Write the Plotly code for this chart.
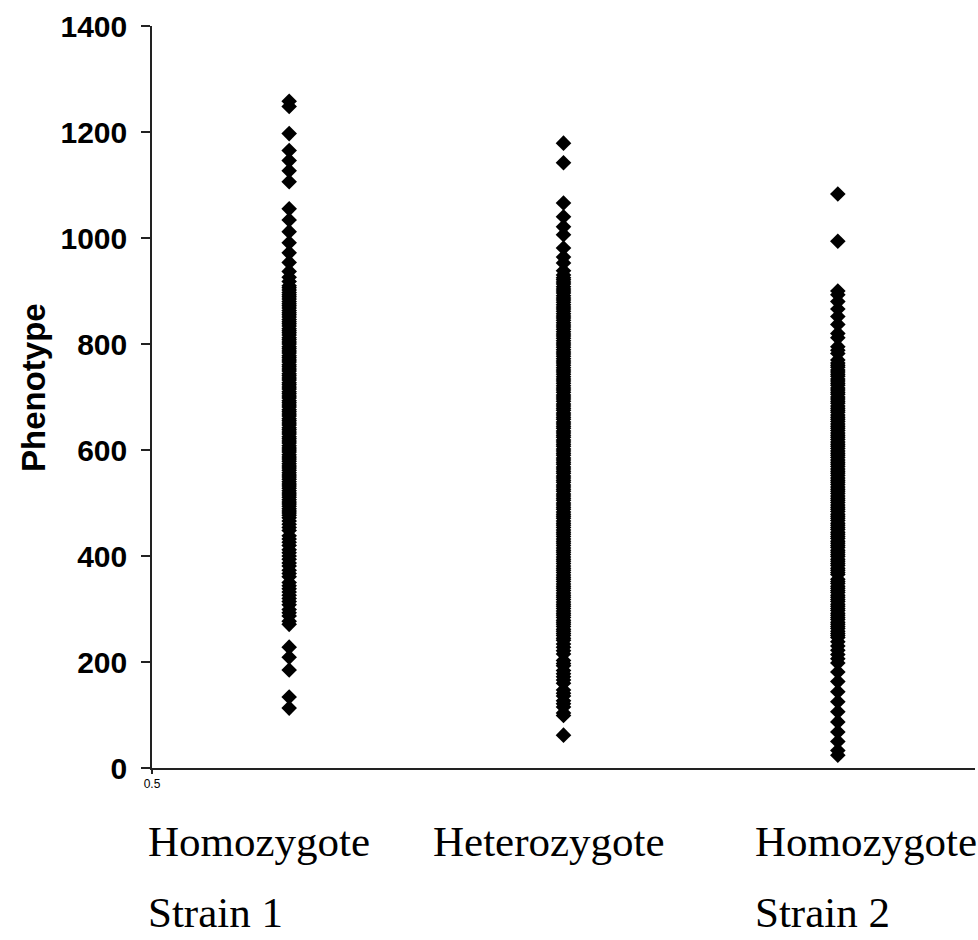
import plotly.graph_objects as go

# ---- data ----
categories = ["Homozygote Strain 1", "Heterozygote", "Homozygote Strain 2"]
group_positions = [1, 2, 3]
label_line1 = ["Homozygote", "Heterozygote", "Homozygote"]
label_line2 = ["Strain 1", "", "Strain 2"]
label_left_px = [148, 433, 755]

y_tick_values = [0, 200, 400, 600, 800, 1000, 1200, 1400]
x_tick_values = [0.5]
x_tick_text = ["0.5"]

homozygote_strain1 = [
    1258, 1248, 1197, 1165, 1146, 1127, 1106, 1055, 1034, 1012, 991, 972, 954, 937, 926, 918,
    910, 906, 902, 897, 893, 889, 885, 880, 876, 872, 868, 863, 859, 855, 851, 846, 842, 838,
    834, 829, 825, 821, 817, 812, 808, 804, 800, 795, 791, 787, 783, 778, 774, 770, 766, 761,
    757, 753, 749, 744, 740, 736, 732, 727, 723, 719, 715, 710, 706, 702, 698, 693, 689, 685,
    681, 676, 672, 668, 664, 659, 655, 651, 647, 642, 638, 634, 630, 625, 621, 617, 613, 608,
    604, 600, 596, 591, 587, 583, 579, 574, 570, 566, 562, 557, 553, 549, 545, 540, 536, 532,
    528, 523, 519, 515, 511, 506, 502, 498, 494, 489, 485, 481, 477, 472,
    466, 460, 454, 448, 438, 432, 426, 420, 412, 406, 400, 394, 387, 381, 373, 367, 361,
    350, 344, 338, 332, 326, 320, 314, 308, 299, 293, 287, 277, 271,
    228, 209, 185, 134, 113,
]

heterozygote = [
    1179, 1142, 1066, 1040, 1021, 1006, 981, 964, 953, 938, 930,
    925, 921, 917, 913, 908, 904, 900, 896, 891, 887, 883, 879, 874, 870, 866, 862, 857, 853,
    849, 845, 840, 836, 832, 828, 823, 819, 815, 811, 806, 802, 798, 794, 789, 785, 781, 777,
    772, 768, 764, 760, 755, 751, 747, 743, 738, 734, 730, 726, 721, 717, 713, 709, 704, 700,
    696, 692, 687, 683, 679, 675, 670, 666, 662, 658, 653, 649, 645, 641, 636, 632, 628, 624,
    619, 615, 611, 607, 602, 598, 594, 590, 585, 581, 577, 573, 568, 564, 560, 556, 551, 547,
    543, 539, 534, 530, 526, 522, 517, 513, 509, 505, 500, 496, 492, 488, 483, 479, 475, 471,
    466, 462, 458, 454, 449, 445, 441, 437, 432, 428, 424, 420, 415, 411, 407, 403, 398, 394,
    390, 386, 381, 377, 373, 369, 364, 360, 356, 352, 347, 343, 339, 335, 330, 326, 322, 318,
    313, 309, 305, 301, 296, 292, 288, 284, 279, 275, 271, 267, 262, 258, 254, 250, 245, 241,
    234, 228, 221, 215, 203, 197, 193, 184, 178, 172, 166, 160, 147, 141, 136,
    127, 121, 115, 104, 99, 62,
]

homozygote_strain2 = [
    1083, 994, 900, 893, 880, 866, 852, 837, 820, 812, 795, 788, 782, 770,
    764, 760, 756, 751, 747, 743, 739, 734, 730, 726, 722, 717, 713, 709, 705, 700, 696, 692,
    688, 683, 679, 675, 671, 666, 662, 658, 654, 649, 645, 641, 637, 632, 628, 624, 620, 615,
    611, 607, 603, 598, 594, 590, 586, 581, 577, 573, 569, 564, 560, 556, 552, 547, 543, 539,
    535, 530, 526, 522, 518, 513, 509, 505, 501, 496, 492, 488, 484, 479, 475, 471, 467, 462,
    458, 454, 450, 445, 441, 437, 433, 428, 424, 420, 416, 411, 407, 403, 399, 394, 390, 386,
    382, 377, 373, 369, 365, 356, 352, 348, 343, 339, 335, 331, 326, 322, 318, 314, 309, 305,
    301, 297, 292, 288, 284, 280, 275, 271, 267, 263, 258, 254, 250,
    246, 238, 230, 222, 214, 206, 198, 181, 163, 144, 125, 106, 87, 68, 50, 33, 24,
]

series = [homozygote_strain1, heterozygote, homozygote_strain2]

# ---- figure ----
fig = go.Figure()
for name, pos, vals in zip(categories, group_positions, series):
    fig.add_trace(go.Scatter(
        x=[pos] * len(vals), y=vals, mode="markers", name=name,
        marker=dict(symbol="diamond", size=12, color="black", line=dict(width=0)),
        showlegend=False, cliponaxis=False,
    ))

PLOT_L, PLOT_T, PLOT_R, PLOT_B = 152, 26, 975, 768
W, H = 978, 940

fig.update_layout(
    width=W, height=H,
    margin=dict(l=PLOT_L, r=W - PLOT_R, t=PLOT_T, b=H - PLOT_B, pad=0, autoexpand=False),
    paper_bgcolor="white", plot_bgcolor="white",
    showlegend=False,
    xaxis=dict(
        range=[0.5, 3.5], showgrid=False, zeroline=False, automargin=False,
        showline=True, linecolor="#222", linewidth=1.5,
        ticks="outside", ticklen=4, tickwidth=1.5, tickcolor="#222",
        tickvals=x_tick_values, ticktext=x_tick_text,
        tickfont=dict(family="Arial, Liberation Sans", size=12, color="black"),
    ),
    yaxis=dict(
        range=[0, 1400], showgrid=False, zeroline=False, automargin=False,
        showline=True, linecolor="#222", linewidth=1.5,
        ticks="outside", ticklen=9, tickwidth=1.5, tickcolor="#222",
        tickvals=y_tick_values, ticklabelstandoff=8,
        tickfont=dict(family="Arial, Liberation Sans", size=30, color="black", weight="bold"),
    ),
)

def py2paper(py):
    return (PLOT_B - py) / (PLOT_B - PLOT_T)

def px2paper(px):
    return (px - PLOT_L) / (PLOT_R - PLOT_L)

annotations = [dict(
    text="Phenotype", textangle=-90, showarrow=False,
    xref="paper", yref="paper", x=px2paper(34), y=py2paper(388),
    xanchor="center", yanchor="middle",
    font=dict(family="Arial, Liberation Sans", size=33, color="black", weight="bold"),
)]
serif = dict(family="Liberation Serif, Times New Roman, serif", size=43, color="black")
for left, l1, l2 in zip(label_left_px, label_line1, label_line2):
    annotations.append(dict(
        text=l1, showarrow=False, xref="paper", yref="paper",
        x=px2paper(left - 2), y=py2paper(841),
        xanchor="left", yanchor="middle", font=serif,
    ))
    if l2:
        annotations.append(dict(
            text=l2, showarrow=False, xref="paper", yref="paper",
            x=px2paper(left - 2), y=py2paper(912),
            xanchor="left", yanchor="middle", font=serif,
        ))
fig.update_layout(annotations=annotations)

fig.write_html(
    "out.html",
    config={"displayModeBar": False},
    post_script="document.body.style.margin='0px';document.body.style.overflow='hidden';",
)
